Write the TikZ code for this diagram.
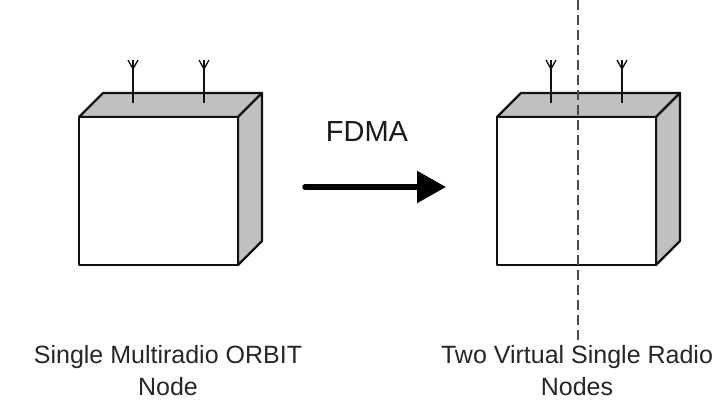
\documentclass[tikz,border=0pt]{standalone}
\usepackage{fontspec}
\setmainfont{Liberation Sans}
\usetikzlibrary{arrows.meta}

\definecolor{facegray}{HTML}{C0C0C0}
\definecolor{edgedark}{HTML}{111111}
\definecolor{cutgray}{HTML}{4A4A4A}

\tikzset{
  x=1pt, y=1pt,
  boxedge/.style={draw=edgedark, line width=2.3pt, line join=round},
  antenna/.style={draw=edgedark, line width=1.8pt},
  caption/.style={font=\fontsize{25}{32}\selectfont, text=black!85, align=center, inner sep=0pt},
  pics/radiobox/.style={code={
    % top and side faces
    \path[boxedge, fill=facegray] (0,0) -- (24,24) -- (183,24) -- (159,0) -- cycle;
    \path[boxedge, fill=facegray] (159,0) -- (183,24) -- (183,-124) -- (159,-148) -- cycle;
    % front face
    \path[boxedge, fill=white] (0,0) rectangle (159,-148);
    % two antennas on the top face
    \foreach \ax in {54,125}{
      \path[antenna] (\ax,14) -- (\ax,57);
      \path[antenna, line width=1.3pt] (\ax,48) -- (\ax-5,57)
                                       (\ax,48) -- (\ax+5,57);
    }
  }}
}

\begin{document}
\begin{tikzpicture}
\useasboundingbox (0,0) rectangle (725,-402);

% single multiradio node
\pic (left) at (79,-117) {radiobox};
% split node
\pic (right) at (497,-117) {radiobox};

% channel split line through the right node
\coordinate (cuttop) at (578,0);
\coordinate (cutbot) at (578,-345);
\draw[cutgray, line width=2.3pt, dash pattern=on 10pt off 5pt] (cuttop) -- (cutbot);

% FDMA transformation arrow
\coordinate (arrs) at (305,-187);
\coordinate (arre) at (446,-187);
\draw[black, line width=5.5pt, line cap=round, -{Triangle[length=29pt, width=31pt]}] (arrs) -- (arre);
\node[font=\fontsize{29}{32}\selectfont, text=black!90, anchor=base, inner sep=0pt] (fdma) at (367,-141) {FDMA};

% captions
\node[caption, anchor=base] (lcap1) at (168,-363) {Single Multiradio ORBIT};
\node[caption, anchor=base] (lcap2) at (168,-395) {Node};
\node[caption, anchor=base] (rcap1) at (577,-363) {Two Virtual Single Radio};
\node[caption, anchor=base] (rcap2) at (577,-395) {Nodes};
\end{tikzpicture}
\end{document}
